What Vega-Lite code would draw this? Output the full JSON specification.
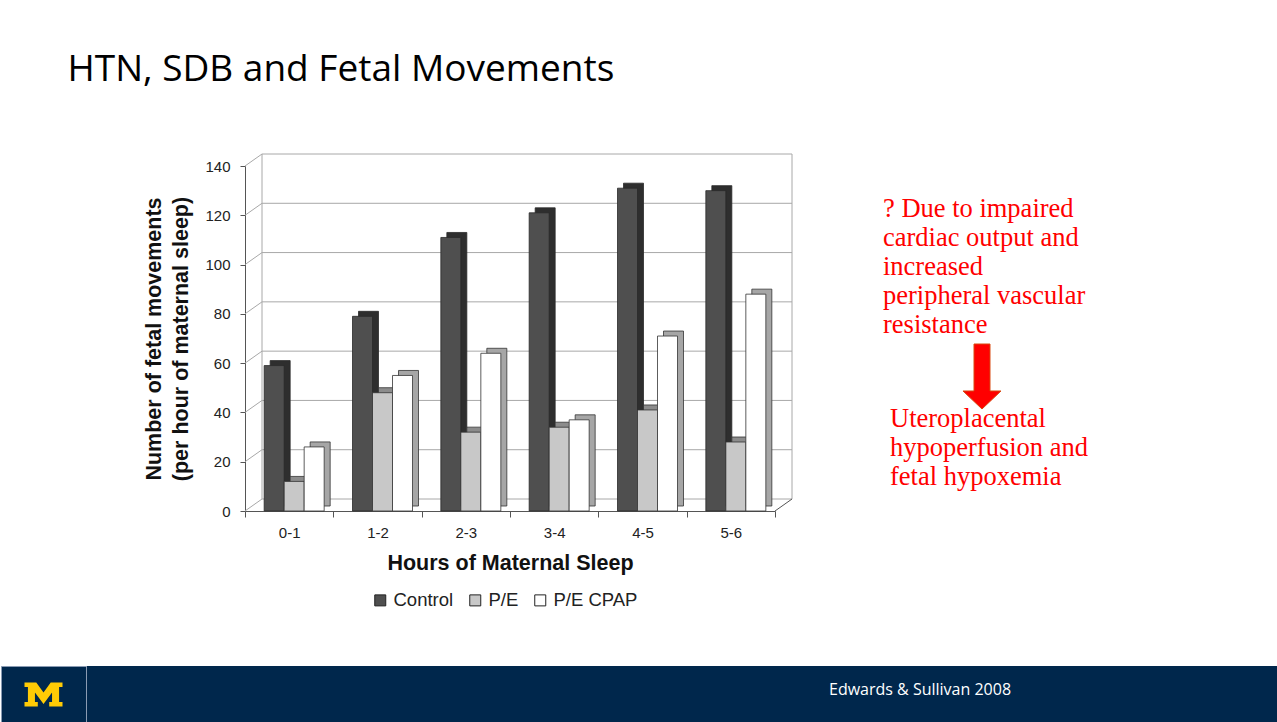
{
  "$schema": "https://vega.github.io/schema/vega-lite/v6.json",
  "background": "white",
  "padding": {"top": 50, "left": 0, "right": 0, "bottom": 0},
  "title": {"text": "HTN, SDB and Fetal Movements", "anchor": "start", "dx": 67, "offset": 65, "font": "Open Sans", "fontSize": 37, "fontWeight": "normal", "color": "#000000"},
  "config": {
    "view": {"stroke": null},
    "axisY": {"grid": false, "domainColor": "#555555", "tickColor": "#555555", "tickSize": 5, "labelFont": "Liberation Sans", "labelFontSize": 15, "labelColor": "#222222", "labelPadding": 10, "titleFont": "Liberation Sans", "titleFontSize": 21.5, "titleFontWeight": "bold", "titleColor": "#111111", "titlePadding": 12, "titleLineHeight": 27},
    "axisX": {"grid": false, "domainColor": "#555555", "tickColor": "#555555", "tickSize": 6, "tickBand": "extent", "labelFont": "Liberation Sans", "labelFontSize": 15, "labelColor": "#222222", "labelPadding": 8, "labelAngle": 0, "titleFont": "Liberation Sans", "titleFontSize": 21.5, "titleFontWeight": "bold", "titleColor": "#111111", "titlePadding": 12}
  },
  "spacing": 91,
  "vconcat": [
    {
      "spacing": 90,
      "hconcat": [
        {"data": {"values": []}, "mark": "point", "width": 52, "height": 10},
        {
          "width": 530,
          "height": 345,
          "data": {"values": [
            {"hours": "0-1", "series": "Control", "value": 59},
            {"hours": "1-2", "series": "Control", "value": 79},
            {"hours": "2-3", "series": "Control", "value": 111},
            {"hours": "3-4", "series": "Control", "value": 121},
            {"hours": "4-5", "series": "Control", "value": 131},
            {"hours": "5-6", "series": "Control", "value": 130},
            {"hours": "0-1", "series": "P/E", "value": 12},
            {"hours": "1-2", "series": "P/E", "value": 48},
            {"hours": "2-3", "series": "P/E", "value": 32},
            {"hours": "3-4", "series": "P/E", "value": 34},
            {"hours": "4-5", "series": "P/E", "value": 41},
            {"hours": "5-6", "series": "P/E", "value": 28},
            {"hours": "0-1", "series": "P/E CPAP", "value": 26},
            {"hours": "1-2", "series": "P/E CPAP", "value": 55},
            {"hours": "2-3", "series": "P/E CPAP", "value": 64},
            {"hours": "3-4", "series": "P/E CPAP", "value": 37},
            {"hours": "4-5", "series": "P/E CPAP", "value": 71},
            {"hours": "5-6", "series": "P/E CPAP", "value": 88}
          ]},
          "layer": [
            {
              "data": {"values": [{"tick": 0}, {"tick": 20}, {"tick": 40}, {"tick": 60}, {"tick": 80}, {"tick": 100}, {"tick": 120}, {"tick": 140}]},
              "mark": {"type": "rule", "color": "#a8a8a8", "strokeWidth": 1, "xOffset": 17, "x2Offset": 17, "yOffset": -12},
              "encoding": {
                "x": {"datum": "0-1", "bandPosition": 0, "type": "nominal", "title": "Hours of Maternal Sleep"},
                "x2": {"datum": "5-6", "bandPosition": 1},
                "y": {"field": "tick", "type": "quantitative", "scale": {"domain": [0, 140], "nice": false}, "title": ["Number of fetal movements", "(per hour of maternal sleep)"], "axis": {"values": [0, 20, 40, 60, 80, 100, 120, 140]}}
              }
            },
            {
              "data": {"values": [{"tick": 0}, {"tick": 20}, {"tick": 40}, {"tick": 60}, {"tick": 80}, {"tick": 100}, {"tick": 120}, {"tick": 140}]},
              "mark": {"type": "rule", "color": "#a8a8a8", "strokeWidth": 1, "x2Offset": 17, "y2Offset": -12},
              "encoding": {
                "x": {"datum": "0-1", "bandPosition": 0, "type": "nominal", "title": "Hours of Maternal Sleep"},
                "x2": {"datum": "0-1", "bandPosition": 0},
                "y": {"field": "tick", "type": "quantitative", "scale": {"domain": [0, 140], "nice": false}, "title": ["Number of fetal movements", "(per hour of maternal sleep)"], "axis": {"values": [0, 20, 40, 60, 80, 100, 120, 140]}},
                "y2": {"field": "tick"}
              }
            },
            {
              "data": {"values": [{"wall": "left"}]},
              "mark": {"type": "rule", "color": "#a8a8a8", "strokeWidth": 1, "xOffset": 17, "yOffset": -12, "y2Offset": -12},
              "encoding": {
                "x": {"datum": "0-1", "bandPosition": 0, "type": "nominal", "title": "Hours of Maternal Sleep"},
                "y": {"datum": 0, "type": "quantitative", "title": ["Number of fetal movements", "(per hour of maternal sleep)"], "axis": {"values": [0, 20, 40, 60, 80, 100, 120, 140]}},
                "y2": {"datum": 140}
              }
            },
            {
              "data": {"values": [{"wall": "right"}]},
              "mark": {"type": "rule", "color": "#a8a8a8", "strokeWidth": 1, "xOffset": 17, "yOffset": -12, "y2Offset": -12},
              "encoding": {
                "x": {"datum": "5-6", "bandPosition": 1, "type": "nominal", "title": "Hours of Maternal Sleep"},
                "y": {"datum": 0, "type": "quantitative", "title": ["Number of fetal movements", "(per hour of maternal sleep)"], "axis": {"values": [0, 20, 40, 60, 80, 100, 120, 140]}},
                "y2": {"datum": 140}
              }
            },
            {
              "data": {"values": [{"wall": "floor"}]},
              "mark": {"type": "rule", "color": "#555555", "strokeWidth": 1, "x2Offset": 17, "y2Offset": -12},
              "encoding": {
                "x": {"datum": "5-6", "bandPosition": 1, "type": "nominal", "title": "Hours of Maternal Sleep"},
                "x2": {"datum": "5-6", "bandPosition": 1},
                "y": {"datum": 0, "type": "quantitative", "title": ["Number of fetal movements", "(per hour of maternal sleep)"], "axis": {"values": [0, 20, 40, 60, 80, 100, 120, 140]}},
                "y2": {"datum": 0}
              }
            },
            {
              "transform": [{"filter": "datum.series === 'Control'"}],
              "mark": {"type": "bar", "width": 20, "xOffset": -9, "yOffset": -5, "y2Offset": -5, "fill": "#2e2e2e", "stroke": "#2a2a2a", "strokeWidth": 0.8},
              "encoding": {
                "x": {"field": "hours", "type": "nominal", "scale": {"paddingInner": 0, "paddingOuter": 0}, "title": "Hours of Maternal Sleep"},
                "y": {"field": "value", "type": "quantitative", "scale": {"domain": [0, 140], "nice": false}, "title": ["Number of fetal movements", "(per hour of maternal sleep)"], "axis": {"values": [0, 20, 40, 60, 80, 100, 120, 140]}}
              }
            },
            {
              "transform": [{"filter": "datum.series === 'P/E'"}],
              "mark": {"type": "bar", "width": 20, "xOffset": 11, "yOffset": -5, "y2Offset": -5, "fill": "#8c8c8c", "stroke": "#333333", "strokeWidth": 0.8},
              "encoding": {
                "x": {"field": "hours", "type": "nominal", "scale": {"paddingInner": 0, "paddingOuter": 0}, "title": "Hours of Maternal Sleep"},
                "y": {"field": "value", "type": "quantitative", "scale": {"domain": [0, 140], "nice": false}, "title": ["Number of fetal movements", "(per hour of maternal sleep)"], "axis": {"values": [0, 20, 40, 60, 80, 100, 120, 140]}}
              }
            },
            {
              "transform": [{"filter": "datum.series === 'P/E CPAP'"}],
              "mark": {"type": "bar", "width": 20, "xOffset": 31, "yOffset": -5, "y2Offset": -5, "fill": "#a6a6a6", "stroke": "#333333", "strokeWidth": 0.8},
              "encoding": {
                "x": {"field": "hours", "type": "nominal", "scale": {"paddingInner": 0, "paddingOuter": 0}, "title": "Hours of Maternal Sleep"},
                "y": {"field": "value", "type": "quantitative", "scale": {"domain": [0, 140], "nice": false}, "title": ["Number of fetal movements", "(per hour of maternal sleep)"], "axis": {"values": [0, 20, 40, 60, 80, 100, 120, 140]}}
              }
            },
            {
              "transform": [{"filter": "datum.series === 'Control'"}],
              "mark": {"type": "bar", "width": 20, "xOffset": -15, "stroke": "#2a2a2a", "strokeWidth": 0.8},
              "encoding": {
                "x": {"field": "hours", "type": "nominal", "scale": {"paddingInner": 0, "paddingOuter": 0}, "title": "Hours of Maternal Sleep"},
                "y": {"field": "value", "type": "quantitative", "scale": {"domain": [0, 140], "nice": false}, "title": ["Number of fetal movements", "(per hour of maternal sleep)"], "axis": {"values": [0, 20, 40, 60, 80, 100, 120, 140]}},
                "color": {"field": "series", "type": "nominal", "scale": {"domain": ["Control", "P/E", "P/E CPAP"], "range": ["#4f4f4f", "#c8c8c8", "#ffffff"]}, "legend": {"orient": "none", "legendX": 370, "legendY": 425, "direction": "horizontal", "title": null, "symbolType": "square", "symbolSize": 121, "symbolStrokeColor": "#222222", "symbolStrokeWidth": 1, "labelFont": "Liberation Sans", "labelFontSize": 18.5, "labelColor": "#222222", "columnPadding": 12, "labelOffset": 4}}
              }
            },
            {
              "transform": [{"filter": "datum.series === 'P/E'"}],
              "mark": {"type": "bar", "width": 20, "xOffset": 5, "stroke": "#333333", "strokeWidth": 0.8},
              "encoding": {
                "x": {"field": "hours", "type": "nominal", "scale": {"paddingInner": 0, "paddingOuter": 0}, "title": "Hours of Maternal Sleep"},
                "y": {"field": "value", "type": "quantitative", "scale": {"domain": [0, 140], "nice": false}, "title": ["Number of fetal movements", "(per hour of maternal sleep)"], "axis": {"values": [0, 20, 40, 60, 80, 100, 120, 140]}},
                "color": {"field": "series", "type": "nominal", "scale": {"domain": ["Control", "P/E", "P/E CPAP"], "range": ["#4f4f4f", "#c8c8c8", "#ffffff"]}, "legend": {"orient": "none", "legendX": 370, "legendY": 425, "direction": "horizontal", "title": null, "symbolType": "square", "symbolSize": 121, "symbolStrokeColor": "#222222", "symbolStrokeWidth": 1, "labelFont": "Liberation Sans", "labelFontSize": 18.5, "labelColor": "#222222", "columnPadding": 12, "labelOffset": 4}}
              }
            },
            {
              "transform": [{"filter": "datum.series === 'P/E CPAP'"}],
              "mark": {"type": "bar", "width": 20, "xOffset": 25, "stroke": "#333333", "strokeWidth": 0.8},
              "encoding": {
                "x": {"field": "hours", "type": "nominal", "scale": {"paddingInner": 0, "paddingOuter": 0}, "title": "Hours of Maternal Sleep"},
                "y": {"field": "value", "type": "quantitative", "scale": {"domain": [0, 140], "nice": false}, "title": ["Number of fetal movements", "(per hour of maternal sleep)"], "axis": {"values": [0, 20, 40, 60, 80, 100, 120, 140]}},
                "color": {"field": "series", "type": "nominal", "scale": {"domain": ["Control", "P/E", "P/E CPAP"], "range": ["#4f4f4f", "#c8c8c8", "#ffffff"]}, "legend": {"orient": "none", "legendX": 370, "legendY": 425, "direction": "horizontal", "title": null, "symbolType": "square", "symbolSize": 121, "symbolStrokeColor": "#222222", "symbolStrokeWidth": 1, "labelFont": "Liberation Sans", "labelFontSize": 18.5, "labelColor": "#222222", "columnPadding": 12, "labelOffset": 4}}
              }
            }
          ]
        },
        {
          "spacing": -6,
          "vconcat": [
            {"data": {"values": []}, "mark": "point", "width": 198, "height": 35},
            {
              "data": {"values": [{"symbol": "arrow"}]},
              "width": 198,
              "height": 65,
              "title": {"text": ["? Due to impaired", "cardiac output and", "increased", "peripheral vascular", "resistance"], "anchor": "start", "font": "Liberation Serif", "fontSize": 26.5, "fontWeight": "normal", "color": "#ff0000", "lineHeight": 29, "offset": 4},
              "mark": {"type": "point", "shape": "M-0.246,-1L0.246,-1L0.246,0.446L0.585,0.446L0,1L-0.585,0.446L-0.246,0.446Z", "size": 4225, "filled": true, "fill": "#ff0000", "stroke": "#d9480f", "strokeWidth": 1, "opacity": 1},
              "encoding": {}
            },
            {
              "data": {"values": []},
              "width": 198,
              "height": 10,
              "title": {"text": ["Uteroplacental", "hypoperfusion and", "fetal hypoxemia"], "anchor": "start", "dx": 7, "font": "Liberation Serif", "fontSize": 26.5, "fontWeight": "normal", "color": "#ff0000", "lineHeight": 29, "offset": 4},
              "mark": "point"
            }
          ]
        }
      ]
    },
    {
      "spacing": 0,
      "hconcat": [
        {
          "width": 85, "height": 57,
          "view": {"fill": "#00274C", "stroke": "#8a9bb3", "strokeWidth": 1},
          "data": {"values": [{"logo": "M"}]},
          "mark": {"type": "point", "shape": "M-1,-0.63L-0.38,-0.63L0,-0.1L0.38,-0.63L1,-0.63L1,-0.4L0.82,-0.4L0.82,0.4L1,0.4L1,0.63L0.3,0.63L0.3,0.4L0.45,0.4L0.45,-0.1L0,0.5L-0.45,-0.1L-0.45,0.4L-0.3,0.4L-0.3,0.63L-1,0.63L-1,0.4L-0.82,0.4L-0.82,-0.4L-1,-0.4Z", "size": 1444, "filled": true, "fill": "#FFCB05", "strokeWidth": 0, "opacity": 1},
          "encoding": {}
        },
        {"width": 641, "height": 57, "view": {"fill": "#00274C", "stroke": null}, "data": {"values": []}, "mark": "point"},
        {
          "width": 384, "height": 57,
          "view": {"fill": "#00274C", "stroke": null},
          "data": {"values": [{"text": "Edwards & Sullivan 2008"}]},
          "mark": {"type": "text", "font": "Open Sans", "fontSize": 16, "color": "#ffffff", "dy": -5},
          "encoding": {"text": {"field": "text", "type": "nominal"}}
        },
        {"width": 167, "height": 57, "view": {"fill": "#00274C", "stroke": null}, "data": {"values": []}, "mark": "point"}
      ]
    }
  ]
}
